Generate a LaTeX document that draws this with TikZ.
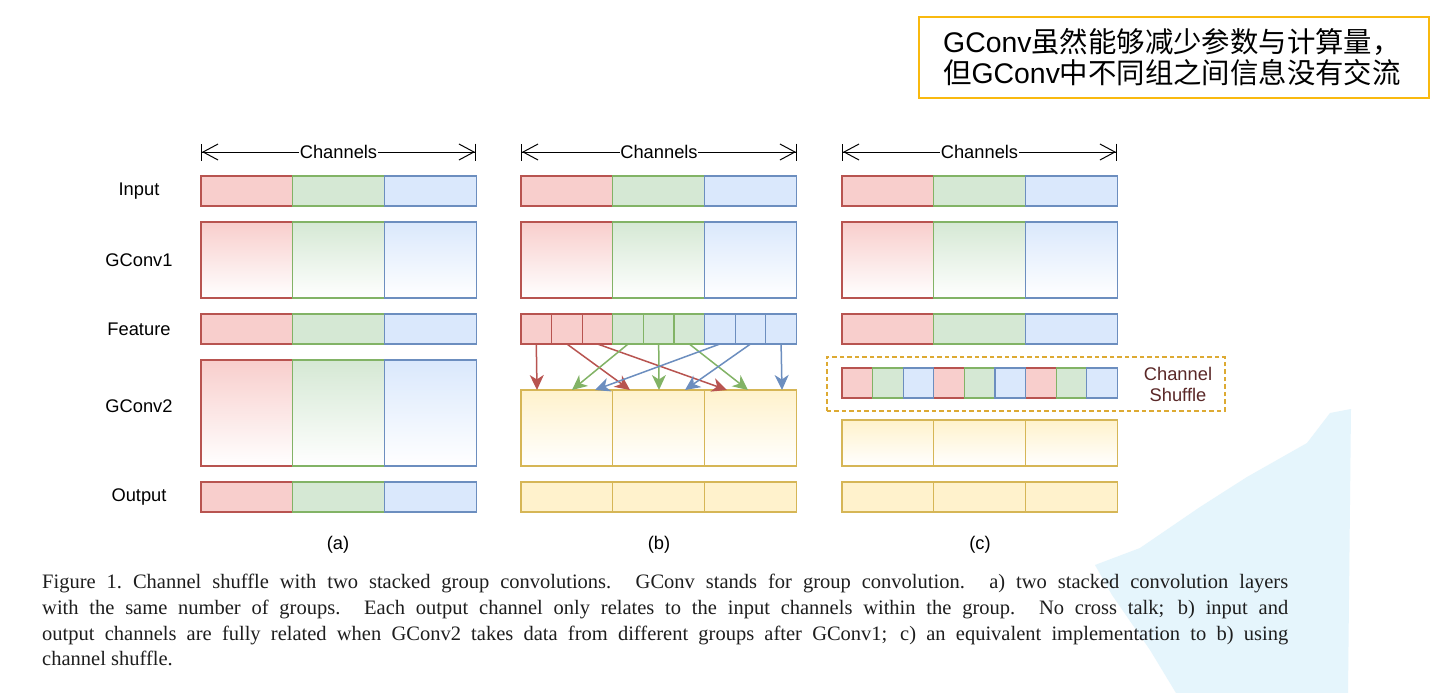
\documentclass[tikz,border=0pt]{standalone}
\usepackage{fontspec}
\setmainfont{Liberation Sans}
\newfontfamily\capfont{Liberation Serif}
\newfontfamily\cjk{Noto Sans CJK SC}
\newfontfamily\lat{Liberation Sans}
\usetikzlibrary{arrows.meta,shadings}
\definecolor{rd}{HTML}{B85450}
\definecolor{rdf}{HTML}{F8CECC}
\definecolor{gn}{HTML}{82B366}
\definecolor{gnf}{HTML}{D5E8D4}
\definecolor{bl}{HTML}{6C8EBF}
\definecolor{blf}{HTML}{DAE8FC}
\definecolor{yl}{HTML}{D6B656}
\definecolor{ylf}{HTML}{FFF2CC}
\definecolor{gold}{HTML}{F9B90F}
\definecolor{dashgold}{HTML}{DDAA33}
\definecolor{skyb}{HTML}{E5F5FC}
\definecolor{maroon}{HTML}{5A2828}
\definecolor{captxt}{HTML}{1E1E1E}
\begin{document}
\begin{tikzpicture}[x=1pt,y=-1pt,
  cellbox/.style={rectangle, inner sep=0pt, outer sep=0pt, line width=1.2pt, anchor=north west},
  lbl/.style={font=\fontsize{18.3}{21}\selectfont, text=black},
  chan/.style={line width=1pt, {Bar[width=17pt] Straight Barb[length=15pt,width=16pt]}-{Straight Barb[length=15pt,width=16pt] Bar[width=17pt]}},
  fb/.style={line width=1.5pt, -{Stealth[length=15pt,width=14pt,inset=4.5pt]}}
]
\useasboundingbox (0,0) rectangle (1444,693);
\fill[white] (0,0) rectangle (1444,693);
% light blue background shape
\fill[skyb] (1330,413) -- (1351,409) -- (1348,693) -- (1176,693) -- (1150,650) -- (1112,595) -- (1095,565) -- (1140,548) -- (1200,507) -- (1247,477) -- (1307,443) -- cycle;

% note box
\node[draw=gold, line width=2pt, rectangle, inner sep=0pt, minimum width=510pt, minimum height=81pt, anchor=north west] (note) at (918,16) {};
\node[anchor=west, inner sep=0pt, align=left, font=\cjk\fontsize{28.4}{31}\selectfont] (notetxt) at (943,57.5) {{\lat GConv}虽然能够减少参数与计算量，\\但{\lat GConv}中不同组之间信息没有交流};

% row labels
\node[lbl] (lin) at (139,191.5) {Input};
\node[lbl] (lg1) at (139,260) {GConv1};
\node[lbl] (lfe) at (139,329.5) {Feature};
\node[lbl] (lg2) at (139,406) {GConv2};
\node[lbl] (lout) at (139,497.5) {Output};

% channels arrows
\coordinate (ca1) at (201,152); \coordinate (ca2) at (476,152);
\coordinate (cb1) at (521,152); \coordinate (cb2) at (797,152);
\coordinate (cc1) at (842,152); \coordinate (cc2) at (1117,152);
\draw[chan] (ca1) -- (ca2) node[midway, fill=white, inner sep=0.5pt, lbl] (cla) {Channels};
\draw[chan] (cb1) -- (cb2) node[midway, fill=white, inner sep=0.5pt, lbl] (clb) {Channels};
\draw[chan] (cc1) -- (cc2) node[midway, fill=white, inner sep=0.5pt, lbl] (clc) {Channels};

% panels: input, gconv1 rows
\foreach \p/\x in {a/201,b/521,c/842} {
  \foreach \g/\s/\f in {0/rd/rdf,1/gn/gnf,2/bl/blf} {
    \node[cellbox, draw=\s, fill=\f, minimum width=91.8pt, minimum height=30pt] (\p in\g) at (\x+91.8*\g,176) {};
    \node[cellbox, draw=\s, top color=\f, bottom color=white, minimum width=91.8pt, minimum height=76pt] (\p gA\g) at (\x+91.8*\g,222) {};
  }
}
% feature rows (a) and (c)
\foreach \p/\x in {a/201,c/842} {
  \foreach \g/\s/\f in {0/rd/rdf,1/gn/gnf,2/bl/blf} {
    \node[cellbox, draw=\s, fill=\f, minimum width=91.8pt, minimum height=30pt] (\p fe\g) at (\x+91.8*\g,314) {};
  }
}
% (a) gconv2 and output
\foreach \g/\s/\f in {0/rd/rdf,1/gn/gnf,2/bl/blf} {
  \node[cellbox, draw=\s, top color=\f, bottom color=white, minimum width=91.8pt, minimum height=106pt] (agB\g) at (201+91.8*\g,360) {};
  \node[cellbox, draw=\s, fill=\f, minimum width=91.8pt, minimum height=30pt] (aout\g) at (201+91.8*\g,482) {};
}
% (b) split feature
\foreach \g/\s/\f in {0/rd/rdf,1/gn/gnf,2/bl/blf} {
  \foreach \j in {0,1,2} {
    \node[cellbox, draw=\s, fill=\f, minimum width=30.6pt, minimum height=30pt] (fb\g\j) at (521+30.6*3*\g+30.6*\j,314) {};
  }
}
% (b) gconv2 and output
\foreach \j in {0,1,2} {
  \node[cellbox, draw=yl, top color=ylf, bottom color=white, minimum width=91.8pt, minimum height=76pt] (bgB\j) at (521+91.8*\j,390) {};
  \node[cellbox, draw=yl, fill=ylf, minimum width=91.8pt, minimum height=30pt] (bout\j) at (521+91.8*\j,482) {};
}
% (b) arrow targets (group j, colour g)
\coordinate (t00) at (537,390); \coordinate (t01) at (572,390); \coordinate (t02) at (595,390);
\coordinate (t10) at (630,390); \coordinate (t11) at (659,390); \coordinate (t12) at (685,390);
\coordinate (t20) at (727,390); \coordinate (t21) at (748,390); \coordinate (t22) at (782,390);
\foreach \g/\s in {0/rd,1/gn,2/bl} {
  \foreach \j in {0,1,2} {
    \draw[fb, draw=\s, fill=\s] (fb\g\j.south) -- (t\j\g);
  }
}

% (c) channel shuffle
\node[rectangle, draw=dashgold, line width=1.6pt, dash pattern=on 4.5pt off 3pt, inner sep=0pt, minimum width=398pt, minimum height=54pt, anchor=north west] (shufbox) at (826,356) {};
\foreach \g/\s/\f in {0/rd/rdf,1/gn/gnf,2/bl/blf} {
  \foreach \j in {0,1,2} {
    \node[cellbox, draw=\s, fill=\f, minimum width=30.6pt, minimum height=30pt] (sc\g\j) at (842+30.6*3*\j+30.6*\g,368) {};
  }
}
\node[lbl, text=maroon, align=center] (shuftxt) at (1178,384) {Channel\\Shuffle};
\foreach \j in {0,1,2} {
  \node[cellbox, draw=yl, top color=ylf, bottom color=white, minimum width=91.8pt, minimum height=46pt] (cgB\j) at (842+91.8*\j,420) {};
  \node[cellbox, draw=yl, fill=ylf, minimum width=91.8pt, minimum height=30pt] (cout\j) at (842+91.8*\j,482) {};
}

% panel captions
\node[lbl] (pa) at (338,545) {(a)};
\node[lbl] (pb) at (659,545) {(b)};
\node[lbl] (pc) at (980,545) {(c)};

% figure caption
\node[anchor=north west, inner sep=0pt, text width=1246pt, align=justify, text=captxt,
  font=\capfont\fontsize{20.5}{25.7}\selectfont] (cap) at (42,574)
{Figure~1.\ Channel shuffle with two stacked group convolutions. GConv stands for group convolution. a) two stacked convolution layers\linebreak
with the same number of groups. Each output channel only relates to the input channels within the group. No cross talk; b) input and\linebreak
output channels are fully related when GConv2 takes data from different groups after GConv1; c) an equivalent implementation to b) using\linebreak
channel shuffle.};
\end{tikzpicture}
\end{document}
